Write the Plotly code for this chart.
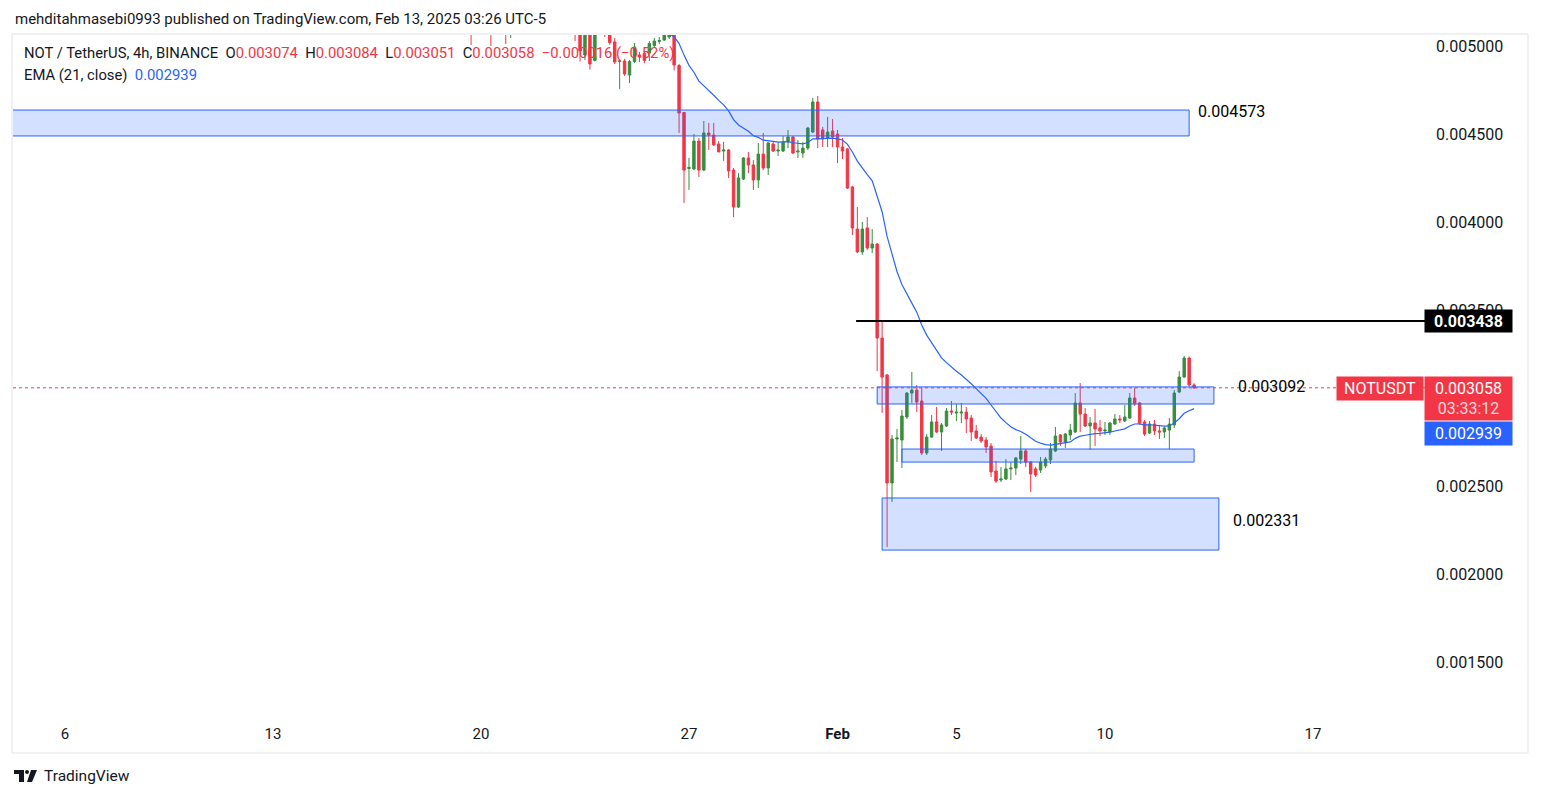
import pandas as pd
import plotly.graph_objects as go

# ---------------- data (NOT/USDT, 4h, BINANCE) ----------------
last_bar_open = "2025-02-13 03:00"   # open time of the last (live) 4h bar, UTC-5
bar_hours = 4

open_ = [
    0.00535, 0.00528, 0.00534, 0.00527, 0.00531, 0.00524, 0.00529, 0.00525, 0.00521, 0.00530,
    0.00538, 0.00545, 0.00542, 0.00548, 0.00555, 0.00551, 0.00546, 0.00551, 0.00545, 0.00541,
    0.00547, 0.00540, 0.00522, 0.004949, 0.00519, 0.004918, 0.00517, 0.00520, 0.00514, 0.005023,
    0.004912, 0.004915, 0.004835, 0.004912, 0.004949, 0.004957, 0.004960, 0.005003, 0.005026, 0.005034,
    0.005051, 0.00507, 0.004889, 0.004622, 0.004304, 0.004301, 0.004460, 0.004295, 0.004506, 0.004494,
    0.004443, 0.004403, 0.004409, 0.004295, 0.004085, 0.004244, 0.004364, 0.004324, 0.004239, 0.004386,
    0.004307, 0.004443, 0.004403, 0.004403, 0.004455, 0.004483, 0.004398, 0.004392, 0.004420, 0.004511,
    0.004682, 0.004523, 0.004477, 0.004517, 0.004500, 0.004426, 0.004415, 0.004199, 0.003960, 0.003830,
    0.003966, 0.003852, 0.003875, 0.003341, 0.003131, 0.002517, 0.002767, 0.002761, 0.002892, 0.003028,
    0.003045, 0.002983, 0.002688, 0.002778, 0.002864, 0.002807, 0.002841, 0.002926, 0.002915, 0.002915,
    0.002920, 0.002886, 0.002813, 0.002778, 0.002761, 0.002727, 0.002585, 0.002534, 0.002540, 0.002597,
    0.002602, 0.002653, 0.002699, 0.002636, 0.002597, 0.002591, 0.002614, 0.002648, 0.002699, 0.002790,
    0.002750, 0.002790, 0.002807, 0.002972, 0.002909, 0.002841, 0.002858, 0.002830, 0.002813, 0.002807,
    0.002852, 0.002881, 0.002869, 0.002886, 0.003000, 0.002972, 0.002864, 0.002801, 0.002852, 0.002813,
    0.002807, 0.002818, 0.002847, 0.003034, 0.003119, 0.003227, 0.003074,
]
high = [
    0.00541, 0.00537, 0.00540, 0.00533, 0.00535, 0.00532, 0.00534, 0.00530, 0.00533, 0.00541,
    0.00549, 0.00554, 0.00551, 0.00559, 0.00563, 0.00558, 0.00554, 0.00557, 0.00552, 0.00550,
    0.00553, 0.00546, 0.00527, 0.00522, 0.00522, 0.00520, 0.00523, 0.00523, 0.00517, 0.005045,
    0.004923, 0.004926, 0.004920, 0.005017, 0.004966, 0.004972, 0.005028, 0.005045, 0.005051, 0.00508,
    0.00510, 0.00510, 0.004898, 0.004625, 0.004364, 0.004500, 0.004477, 0.004574, 0.004563, 0.004563,
    0.004460, 0.004455, 0.004415, 0.004307, 0.004278, 0.004369, 0.004398, 0.004352, 0.004449, 0.004506,
    0.004455, 0.004455, 0.004455, 0.004489, 0.004523, 0.004489, 0.004466, 0.004455, 0.004540, 0.004705,
    0.004716, 0.004540, 0.004597, 0.004585, 0.004523, 0.004477, 0.004420, 0.004205, 0.004085, 0.004000,
    0.004028, 0.003960, 0.003881, 0.003438, 0.003136, 0.002790, 0.002824, 0.002932, 0.003034, 0.003148,
    0.003074, 0.003057, 0.002795, 0.002903, 0.002949, 0.002858, 0.002943, 0.002983, 0.002966, 0.002972,
    0.002949, 0.002903, 0.002847, 0.002795, 0.002778, 0.002744, 0.002642, 0.002608, 0.002653, 0.002636,
    0.002665, 0.002784, 0.002710, 0.002642, 0.002608, 0.002665, 0.002665, 0.002744, 0.002835, 0.002795,
    0.002801, 0.002852, 0.003028, 0.003085, 0.002943, 0.002892, 0.002938, 0.002875, 0.002864, 0.002864,
    0.002909, 0.002903, 0.002960, 0.003028, 0.003057, 0.002977, 0.002875, 0.002869, 0.002875, 0.002847,
    0.002835, 0.002886, 0.003045, 0.003153, 0.003239, 0.003236, 0.003084,
]
low = [
    0.005006, 0.00522, 0.00524, 0.00519, 0.00500, 0.00518, 0.00521, 0.005011, 0.005045, 0.00526,
    0.00533, 0.00539, 0.00536, 0.00543, 0.00547, 0.00543, 0.00539, 0.00541, 0.00537, 0.00534,
    0.00536, 0.005028, 0.004912, 0.004920, 0.004866, 0.004912, 0.00512, 0.005051, 0.005006, 0.004898,
    0.004756, 0.004830, 0.004790, 0.004903, 0.004909, 0.004903, 0.004915, 0.004989, 0.005011, 0.005028,
    0.005040, 0.004861, 0.004506, 0.004108, 0.004182, 0.004295, 0.004256, 0.004290, 0.004409, 0.004432,
    0.004398, 0.004347, 0.004250, 0.004028, 0.004080, 0.004239, 0.004278, 0.004182, 0.004193, 0.004295,
    0.004267, 0.004398, 0.004375, 0.004398, 0.004420, 0.004386, 0.004364, 0.004364, 0.004409, 0.004506,
    0.004420, 0.004426, 0.004426, 0.004426, 0.004335, 0.004358, 0.004188, 0.003926, 0.003824, 0.003813,
    0.003841, 0.003824, 0.003153, 0.002915, 0.002153, 0.002409, 0.002636, 0.002602, 0.002881, 0.002972,
    0.002920, 0.002676, 0.002676, 0.002773, 0.002801, 0.002699, 0.002835, 0.002903, 0.002869, 0.002858,
    0.002801, 0.002756, 0.002767, 0.002744, 0.002688, 0.002551, 0.002517, 0.002523, 0.002534, 0.002534,
    0.002562, 0.002625, 0.002608, 0.002466, 0.002551, 0.002574, 0.002602, 0.002625, 0.002693, 0.002727,
    0.002716, 0.002761, 0.002801, 0.002807, 0.002835, 0.002705, 0.002727, 0.002784, 0.002790, 0.002790,
    0.002847, 0.002858, 0.002864, 0.002881, 0.002955, 0.002847, 0.002784, 0.002796, 0.002790, 0.002767,
    0.002773, 0.002710, 0.002830, 0.003028, 0.003114, 0.003065, 0.003051,
]
close = [
    0.00528, 0.00534, 0.00527, 0.00531, 0.00524, 0.00529, 0.00525, 0.00521, 0.00530, 0.00538,
    0.00545, 0.00542, 0.00548, 0.00555, 0.00551, 0.00546, 0.00551, 0.00545, 0.00541, 0.00547,
    0.00540, 0.00522, 0.004972, 0.00519, 0.004898, 0.00517, 0.00520, 0.00514, 0.005020, 0.004909,
    0.004915, 0.004841, 0.004912, 0.004994, 0.004938, 0.004918, 0.005014, 0.005028, 0.005031, 0.005063,
    0.00507, 0.004892, 0.004619, 0.004295, 0.004310, 0.004460, 0.004295, 0.004506, 0.004494, 0.004438,
    0.004398, 0.004409, 0.004290, 0.004085, 0.004250, 0.004364, 0.004324, 0.004239, 0.004386, 0.004307,
    0.004449, 0.004403, 0.004409, 0.004455, 0.004483, 0.004392, 0.004403, 0.004420, 0.004534, 0.004682,
    0.004472, 0.004472, 0.004511, 0.004483, 0.004426, 0.004403, 0.004193, 0.003966, 0.003830, 0.003960,
    0.003852, 0.003875, 0.003341, 0.003119, 0.002517, 0.002767, 0.002773, 0.002898, 0.003028, 0.003045,
    0.002977, 0.002688, 0.002778, 0.002864, 0.002807, 0.002847, 0.002926, 0.002920, 0.002920, 0.002920,
    0.002881, 0.002807, 0.002773, 0.002756, 0.002722, 0.002580, 0.002528, 0.002540, 0.002597, 0.002602,
    0.002659, 0.002699, 0.002636, 0.002568, 0.002562, 0.002636, 0.002653, 0.002710, 0.002784, 0.002750,
    0.002795, 0.002818, 0.002972, 0.002909, 0.002841, 0.002858, 0.002824, 0.002813, 0.002818, 0.002858,
    0.002881, 0.002875, 0.002892, 0.003000, 0.002966, 0.002858, 0.002795, 0.002852, 0.002813, 0.002807,
    0.002830, 0.002852, 0.003028, 0.003119, 0.003227, 0.003074, 0.003058,
]
ema_length = 21
ema_last_shown = 0.002939          # EMA value printed by the source chart

# drawn zones: (start time, end time, top price, bottom price)
zone_start = ["2024-12-25 00:00", "2025-02-02 11:00", "2025-02-03 07:00", "2025-02-02 15:00"]
zone_end = ["2025-02-12 23:00", "2025-02-13 19:00", "2025-02-13 03:00", "2025-02-13 23:00"]
zone_top = [0.004636, 0.003063, 0.002710, 0.002432]
zone_bottom = [0.004489, 0.002966, 0.002636, 0.002136]
zone_labels = ["0.004573", "0.003092", None, "0.002331"]

resistance_level = 0.003438
resistance_start = "2025-02-01 18:00"

x_tick_dates = ["2025-01-06 03:00", "2025-01-13 03:00", "2025-01-20 03:00", "2025-01-27 03:00",
                "2025-02-01 03:00", "2025-02-05 03:00", "2025-02-10 03:00", "2025-02-17 03:00"]
x_tick_labels = ["6", "13", "20", "27", "<b>Feb</b>", "5", "10", "17"]
# 0.003000 is fully covered by the price badges in the source, so it is not listed
y_tick_values = [0.0015, 0.0020, 0.0025, 0.0035, 0.0040, 0.0045, 0.0050]

# ---------------- derived ----------------
n = len(close)
assert len(open_) == len(high) == len(low) == n
last = pd.Timestamp(last_bar_open)
times = [last - pd.Timedelta(hours=bar_hours * (n - 1 - i)) for i in range(n)]
ema = pd.Series(close).ewm(span=ema_length, adjust=False).mean()

W, H = 1541, 798
PL, PR, PT, PB = 13, 1425, 35, 720


def fx(px):
    return (px - PL) / (PR - PL)


def fy(py):
    return (PB - py) / (PB - PT)


GREEN = "#388e3c"
RED = "#f23645"
BLUE = "#2962ff"
INK = "#131722"
FONT = "Roboto"

fig = go.Figure()
fig.add_trace(go.Candlestick(
    x=times, open=open_, high=high, low=low, close=close,
    increasing=dict(line=dict(color=GREEN, width=1), fillcolor=GREEN),
    decreasing=dict(line=dict(color=RED, width=1), fillcolor=RED),
    whiskerwidth=0, showlegend=False, hoverinfo="skip",
))
fig.add_trace(go.Scatter(
    x=times, y=ema, mode="lines", line=dict(color=BLUE, width=1.2),
    showlegend=False, hoverinfo="skip",
))

shapes = []
for s, e, t, b in zip(zone_start, zone_end, zone_top, zone_bottom):
    shapes.append(dict(type="rect", xref="x", yref="y", x0=s, x1=e, y0=b, y1=t,
                       line=dict(color=BLUE, width=1), fillcolor="rgba(41,98,255,0.2)",
                       layer="above"))
shapes.append(dict(type="line", xref="x", yref="y", x0=resistance_start, x1=times[-1] + pd.Timedelta(days=9),
                   y0=resistance_level, y1=resistance_level, line=dict(color="#000000", width=2),
                   layer="above"))
shapes.append(dict(type="line", xref="paper", yref="y", x0=0, x1=1,
                   y0=close[-1], y1=close[-1], line=dict(color=RED, width=1, dash="dot"),
                   layer="above"))
# outer frame
shapes.append(dict(type="rect", xref="paper", yref="paper", x0=fx(12), x1=fx(1528), y0=fy(753), y1=fy(34),
                   line=dict(color="#e0e3eb", width=1), fillcolor="rgba(0,0,0,0)", layer="below"))
# TradingView logo (approximate glyph)
shapes.append(dict(type="path", xref="paper", yref="paper",
                   path=(f"M {fx(14)} {fy(770)} L {fx(24)} {fy(770)} L {fx(24)} {fy(782)} L {fx(19)} {fy(782)} "
                         f"L {fx(19)} {fy(774)} L {fx(14)} {fy(774)} Z"),
                   fillcolor=INK, line=dict(width=0)))
shapes.append(dict(type="circle", xref="paper", yref="paper", x0=fx(25), x1=fx(29), y0=fy(774), y1=fy(770),
                   fillcolor=INK, line=dict(width=0)))
shapes.append(dict(type="path", xref="paper", yref="paper",
                   path=(f"M {fx(31)} {fy(770)} L {fx(37)} {fy(770)} L {fx(32)} {fy(782)} L {fx(27)} {fy(782)} Z"),
                   fillcolor=INK, line=dict(width=0)))

ann = []


def text(px, py, s, size=15, color=INK, xanchor="left", **kw):
    ann.append(dict(x=fx(px), y=fy(py), xref="paper", yref="paper", text=s, showarrow=False,
                    xanchor=xanchor, yanchor="middle", font=dict(family=FONT, size=size, color=color), **kw))


text(13, 19, "mehditahmasebi0993 published on TradingView.com, Feb 13, 2025 03:26 UTC-5", size=15)

chg = close[-1] - close[-2]
pct = chg / close[-2] * 100
sp = "\u00a0"
red = lambda v: f"<span style='color:{RED}'>{v}</span>"
row1 = (f"NOT / TetherUS, 4h, BINANCE{sp}{sp}O{red(f'{open_[-1]:.6f}')}{sp}{sp}H{red(f'{high[-1]:.6f}')}"
        f"{sp}{sp}L{red(f'{low[-1]:.6f}')}{sp}{sp}C{red(f'{close[-1]:.6f}')}{sp}{sp}"
        + red(f"{chg:+.6f} ({pct:+.2f}%)".replace("-", "\u2212")))
text(22, 53, row1, size=14.8)
text(22, 75, f"EMA (21, close){sp}{sp}<span style='color:{BLUE}'>{ema_last_shown:.6f}</span>", size=14.8)

label_x = [1196, 1236, None, 1231]
label_y = [111, 386, None, 520]
for lab, lx, ly in zip(zone_labels, label_x, label_y):
    if lab:
        text(lx, ly, lab, size=16, color="#000000")


def box(cx, cy, w, h, s, bg, size=16):
    ann.append(dict(x=fx(cx), y=fy(cy), xref="paper", yref="paper", text=s, showarrow=False,
                    xanchor="center", yanchor="middle", width=w, height=h, bgcolor=bg, borderpad=0,
                    align="center", valign="middle",
                    font=dict(family=FONT, size=size, color="#ffffff")))


box(1468.5, 321, 87, 22, f"<b>{resistance_level:.6f}</b>", "#000000")
box(1379.5, 388.5, 86, 23, "NOTUSDT", RED)
box(1468.5, 398.5, 87, 43, f"{close[-1]:.6f}<br><span style='color:rgba(255,255,255,0.8)'>03:33:12</span>", RED)
box(1468.5, 433.5, 87, 23, f"{ema_last_shown:.6f}", BLUE)

text(42, 776, "TradingView", size=15.5)

fig.update_layout(
    width=W, height=H,
    margin=dict(l=PL, r=W - PR, t=PT, b=H - PB, pad=0),
    paper_bgcolor="#ffffff", plot_bgcolor="#ffffff",
    shapes=shapes, annotations=ann,
    font=dict(family=FONT, color=INK),
    xaxis=dict(type="date", range=["2025-01-04 09:00", "2025-02-20 21:30"],
               rangeslider=dict(visible=False), showgrid=False, zeroline=False, showline=False,
               tickvals=x_tick_dates, ticktext=x_tick_labels, ticks="",
               tickfont=dict(family=FONT, size=15, color=INK), ticklabelstandoff=3),
    yaxis=dict(side="right", range=[0.0011705, 0.0050625], showgrid=False, zeroline=False,
               showline=False, tickvals=y_tick_values, tickformat=".6f", ticks="",
               tickfont=dict(family=FONT, size=16, color=INK), ticklabelstandoff=10),
)

fig.write_html("out.html")
